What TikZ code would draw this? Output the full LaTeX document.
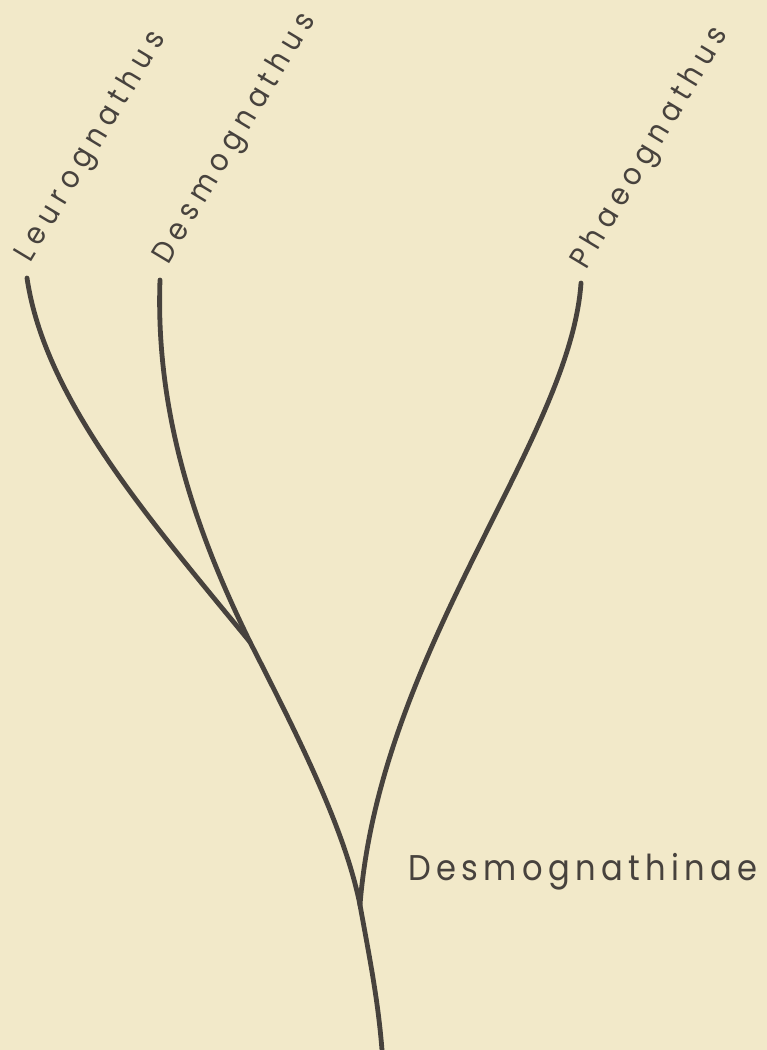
\documentclass[tikz,border=0pt]{standalone}
\usepackage{fontspec}
\setmainfont{Poppins}
\newfontfamily\taxfont{Poppins}[FakeStretch=0.9,LetterSpace=22]
\newfontfamily\grpfont{Poppins}[FakeStretch=0.9,LetterSpace=15]
\definecolor{bg}{HTML}{F2E9C9}
\definecolor{ink}{HTML}{47423D}
\begin{document}
\begin{tikzpicture}[x=0.75pt,y=-0.75pt,
  branch/.style={draw=ink,line width=3.6pt,line cap=round},
  taxon/.style={rotate=59,anchor=base west,inner sep=0pt,text=ink,font=\taxfont\fontsize{23}{27}\selectfont},
  group/.style={anchor=base west,inner sep=0pt,text=ink,font=\grpfont\fontsize{26.8}{30}\selectfont}]
\fill[bg] (0,0) rectangle (767,1050);
\useasboundingbox (0,0) rectangle (767,1050);
% tips and junctions
\coordinate (leu) at (27,278);
\coordinate (des) at (160,280);
\coordinate (pha) at (581,283);
\coordinate (j1) at (250,642);
\coordinate (j2) at (360,905);
\coordinate (root) at (382,1050);
% branches
\draw[branch] (leu) .. controls (45,400) and (150,520) .. (j1);
\draw[branch] (des) .. controls (155,420) and (200,540) .. (j1);
\draw[branch] (j1) .. controls (300,740) and (345,830) .. (j2);
\draw[branch] (pha) .. controls (570,440) and (380,650) .. (j2);
\draw[branch,line cap=butt] (j2) .. controls (370,960) and (378,1000) .. (root);
% labels
\node[taxon] (tleu) at (30,264) {Leurognathus};
\node[taxon] (tdes) at (168,266) {Desmognathus};
\node[taxon] (tpha) at (586,271) {Phaeognathus};
\node[group] (grp) at (408,880) {Desmognathinae};
\end{tikzpicture}
\end{document}
